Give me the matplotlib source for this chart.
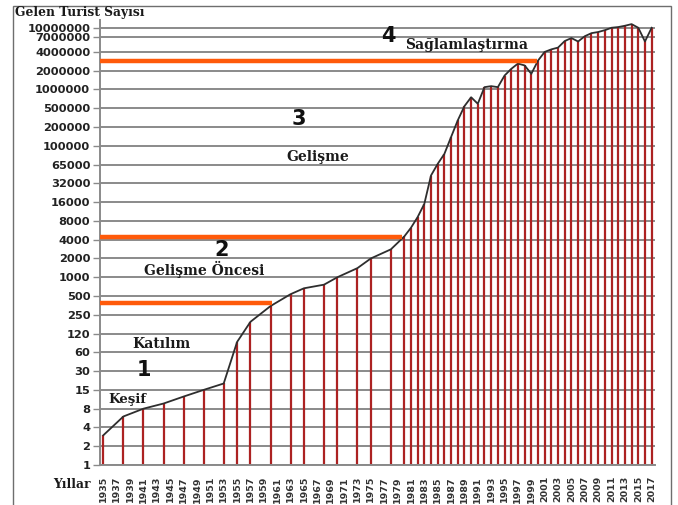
import matplotlib
matplotlib.use("Agg")
import matplotlib.pyplot as plt
import numpy as np
from matplotlib.patches import Rectangle
from matplotlib.ticker import NullLocator

# tourist arrivals per year
years = [1935, 1938, 1941, 1944, 1947, 1950, 1953, 1955, 1957, 1960, 1963,
         1965, 1968, 1970, 1973, 1975, 1978] + list(range(1980, 2018))
tourists = [3, 6, 8, 9.5, 12, 15, 19, 88, 190, 345, 535,
            665, 760, 1000, 1400, 2000, 2800,
            4500, 6200, 9200, 15000, 43000, 66000, 83000, 138000, 276000,
            540000, 750000, 590000, 1090000, 1130000, 1090000, 1670000,
            2140000, 2600000, 2430000, 1780000, 2900000, 4000000, 4400000,
            4700000, 6000000, 6700000, 5900000, 7200000, 8200000, 8600000,
            9300000, 10300000, 10600000, 11200000, 12000000, 10300000,
            5900000, 10300000]

# phase boundaries (orange lines): level and the year where they stop
phase_levels = [390, 4400, 2830000]
phase_ends = [1960.2, 1979.6, 1999.8]

y_ticks = [1, 2, 4, 8, 15, 30, 60, 120, 250, 500, 1000, 2000, 4000, 8000,
           16000, 32000, 65000, 100000, 200000, 500000, 1000000, 2000000,
           4000000, 7000000, 10000000]
x_ticks = list(range(1935, 2018, 2))

# the value axis is drawn with equal steps between the odd tick values
tick_slots = np.array(list(range(23)) + [22.8, 23.25], dtype=float)
log_ticks = np.log(np.array(y_ticks, dtype=float))
top_slope = (tick_slots[-1] - tick_slots[-2]) / (log_ticks[-1] - log_ticks[-2])
low_slope = (tick_slots[1] - tick_slots[0]) / (log_ticks[1] - log_ticks[0])


def fwd(v):
    lv = np.log(np.clip(np.asarray(v, dtype=float), 1e-6, None))
    out = np.interp(lv, log_ticks, tick_slots)
    out = np.where(lv > log_ticks[-1], tick_slots[-1] + (lv - log_ticks[-1]) * top_slope, out)
    out = np.where(lv < log_ticks[0], tick_slots[0] + (lv - log_ticks[0]) * low_slope, out)
    return out


def inv(p):
    p = np.asarray(p, dtype=float)
    out = np.interp(p, tick_slots, log_ticks)
    out = np.where(p > tick_slots[-1], log_ticks[-1] + (p - tick_slots[-1]) / top_slope, out)
    out = np.where(p < tick_slots[0], log_ticks[0] + (p - tick_slots[0]) / low_slope, out)
    return np.exp(out)


W, H = 678, 505
fig = plt.figure(figsize=(W / 100, H / 100), dpi=100)
ax = fig.add_axes([100 / W, 40 / H, 555 / W, 445 / H])
ax.set_yscale("function", functions=(fwd, inv))

grey = "#8a8a8a"
ax.vlines(years, 1, tourists, color="#ac2222", lw=1.6, zorder=2)
ax.plot(years, tourists, color="#2e2e2e", lw=1.3, solid_joinstyle="round", zorder=3)
for lev, end in zip(phase_levels, phase_ends):
    ax.hlines(lev, 1934.5, end, color="#ff5a0a", lw=3.2, zorder=4)

ax.set_xlim(1934.5, 2017.5)
ax.set_ylim(1, float(inv(23.7)))
ax.set_yticks(y_ticks)
ax.set_yticklabels([str(t) for t in y_ticks])
ax.yaxis.set_minor_locator(NullLocator())
ax.set_xticks(x_ticks)
ax.set_xticklabels([str(t) for t in x_ticks], rotation=90)

ax.yaxis.grid(True, color=grey, lw=1.4)
ax.set_axisbelow(True)
for s in ["top", "right"]:
    ax.spines[s].set_visible(False)
for s in ["left", "bottom"]:
    ax.spines[s].set_color(grey)
    ax.spines[s].set_linewidth(1.4)

ax.tick_params(axis="y", length=5, width=1, color=grey, pad=2, labelsize=8.2,
               labelcolor="#222222")
ax.tick_params(axis="x", length=0, pad=8, labelsize=6.8, labelcolor="#333333")
for lab in ax.get_yticklabels() + ax.get_xticklabels():
    lab.set_fontweight("bold")


def afrac(px, py):
    return ((px - 100) / 555, (465 - py) / 445)


serif = dict(family="DejaVu Serif", fontweight="bold", color="#1a1a1a",
             ha="center", va="center", transform=ax.transAxes)
big = dict(family="DejaVu Sans", fontweight="bold", color="#111111",
           ha="center", va="center", fontsize=15, transform=ax.transAxes)

ax.text(*afrac(127, 400), "Keşif", fontsize=9.5, **serif)
ax.text(*afrac(161, 344), "Katılım", fontsize=10, **serif)
ax.text(*afrac(204, 269), "Gelişme Öncesi", fontsize=10, **serif)
ax.text(*afrac(318, 157), "Gelişme", fontsize=10, **serif)
ax.text(*afrac(467, 45), "Sağlamlaştırma", fontsize=10, **serif)
ax.text(*afrac(144, 370), "1", **big)
ax.text(*afrac(222, 250), "2", **big)
ax.text(*afrac(299, 119), "3", **big)
ax.text(*afrac(388, 36), "4", **big)

fig.text(15 / W, 1 - 12.5 / H, "Gelen Turist Sayısı", family="DejaVu Serif",
         fontweight="bold", fontsize=8.8, ha="left", va="center", color="#1a1a1a")
fig.text(72 / W, 1 - 484 / H, "Yıllar", family="DejaVu Serif",
         fontweight="bold", fontsize=8.8, ha="center", va="center", color="#1a1a1a")

fig.add_artist(Rectangle((13 / W, -0.02), (671 - 13) / W, (H - 6) / H + 0.02,
                         transform=fig.transFigure, fill=False, ec="#6e6e6e", lw=1))

fig.savefig("out.png", dpi=100)
